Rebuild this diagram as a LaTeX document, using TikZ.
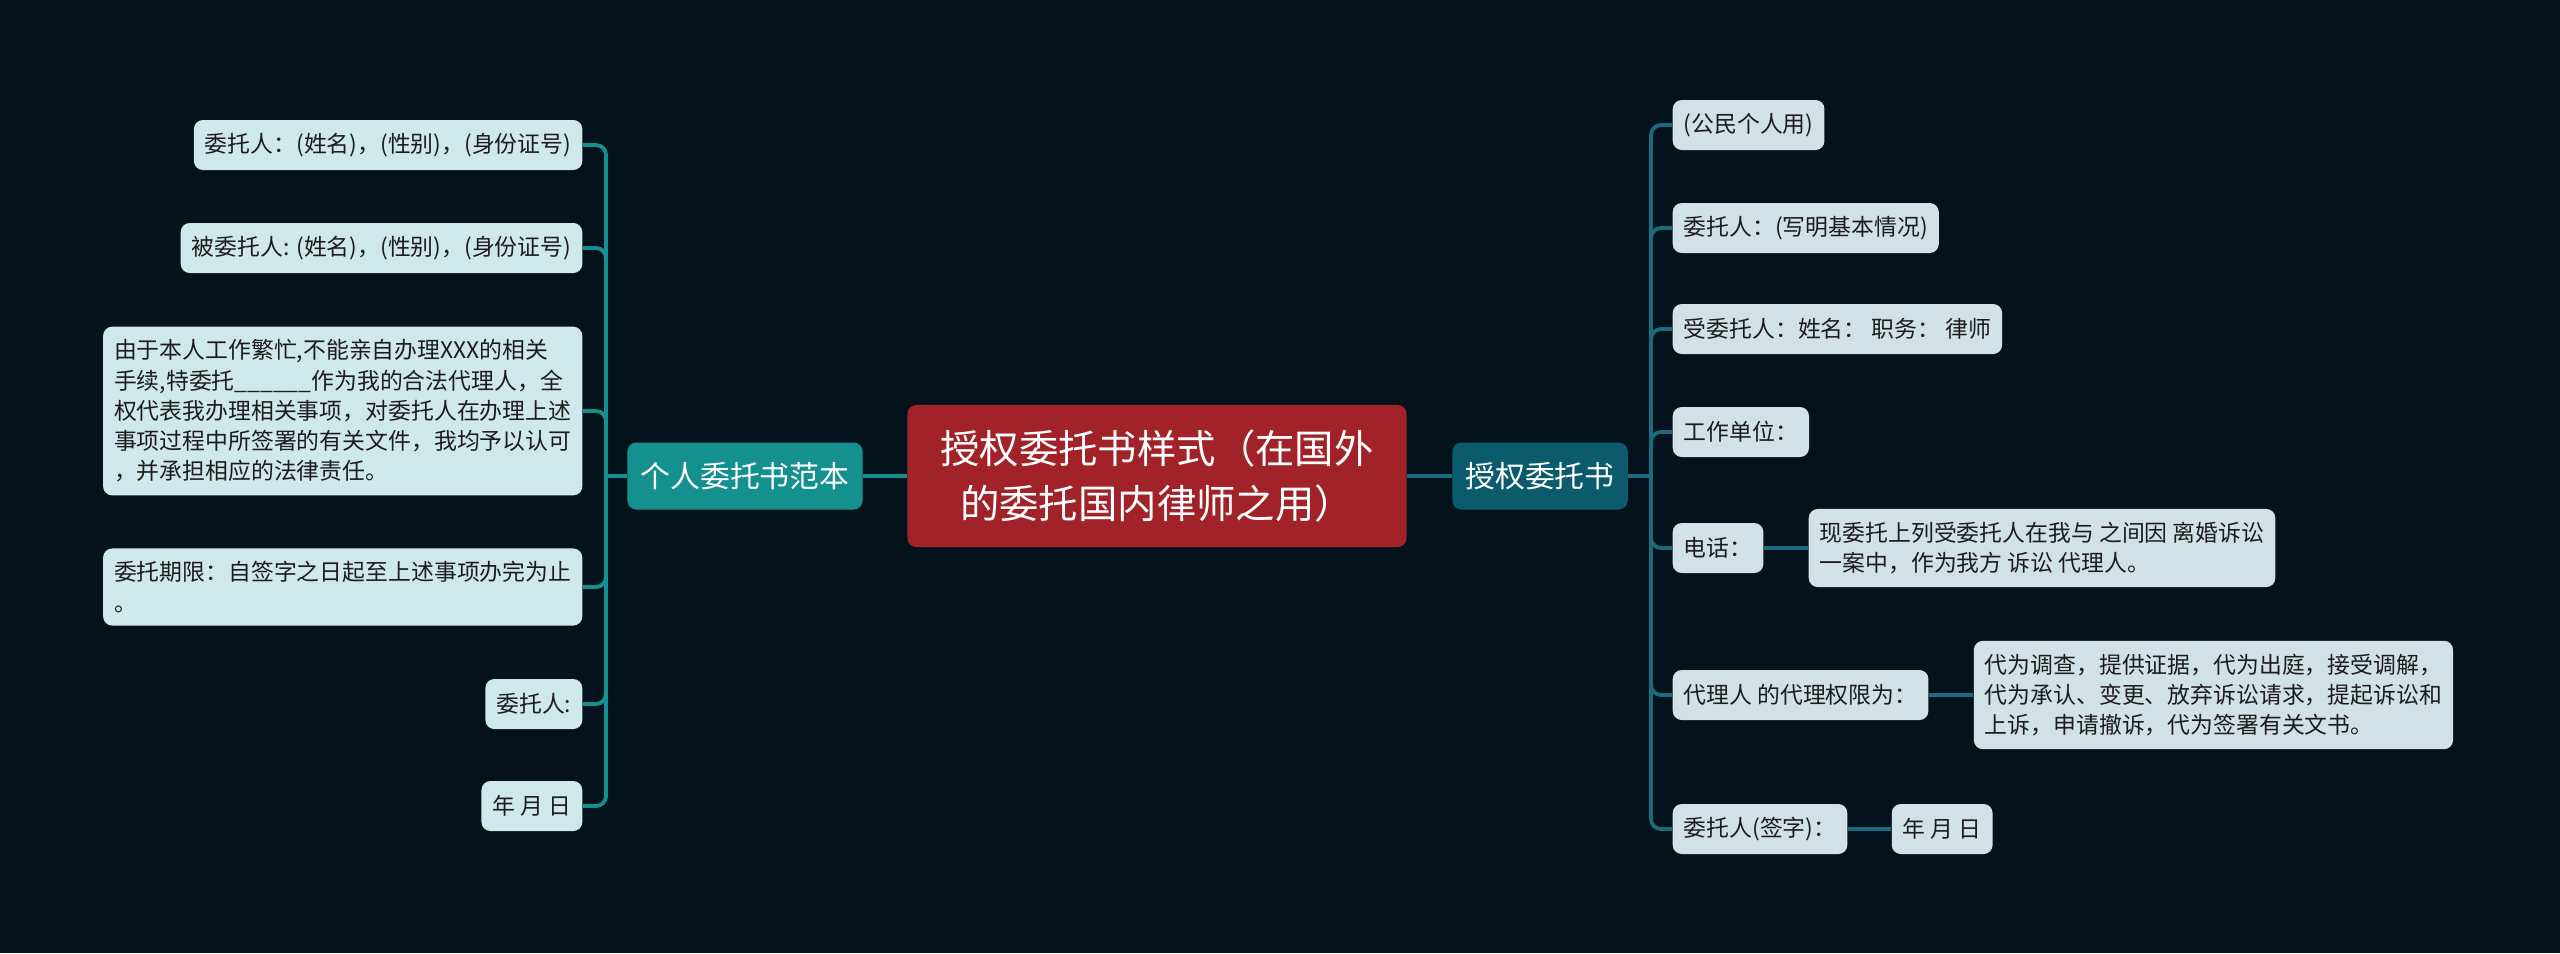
\documentclass[tikz,border=0pt]{standalone}
\usepackage{fontspec}
\setmainfont{Noto Sans CJK SC}
\usepackage{tikz}
\usetikzlibrary{positioning}
\usepackage{xcolor}
\definecolor{bgdark}{HTML}{03121B}
\definecolor{rootred}{HTML}{A12329}
\definecolor{tealL}{HTML}{14918F}
\definecolor{blueR}{HTML}{1B6B7E}
\definecolor{blueRfill}{HTML}{0B5B6C}
\definecolor{leafL}{HTML}{CFE9EA}
\definecolor{leafR}{HTML}{D1E2E6}
\definecolor{ink}{HTML}{1C1C1C}

\begin{document}
\begin{tikzpicture}[x=0.01cm, y=-0.01cm,
    leaf/.style={rounded corners=0.09cm, text=ink, inner xsep=0.11cm, inner ysep=0.13cm,
      minimum height=0.5cm, align=left, font=\fontsize{6.5}{8.6}\selectfont},
    lleaf/.style={leaf, fill=leafL, anchor=east},
    rleaf/.style={leaf, fill=leafR, anchor=west},
    topic/.style={rounded corners=0.09cm, text=white, inner xsep=0.13cm, minimum height=0.67cm,
      font=\fontsize{8.5}{10}\selectfont},
    lline/.style={draw=tealL, line width=1.1pt},
    rline/.style={draw=blueR, line width=1.1pt}]
  \useasboundingbox (0,0) rectangle (2560,953);
  \fill[bgdark] (0,0) rectangle (2560,953);

  % centre
  \node[fill=rootred, rounded corners=0.09cm, text=white, align=center, minimum width=4.99cm,
    minimum height=1.42cm, font=\fontsize{11.2}{15.8}\selectfont] (root) at (1157,476)
    {授权委托书样式（在国外\\的委托国内律师之用）};
  \node[topic, fill=tealL] (sample) at (745,476) {个人委托书范本};
  \node[topic, fill=blueRfill] (letter) at (1540,476) {授权委托书};
  \draw[lline] (root.west) -- (sample.east);
  \draw[rline] (root.east) -- (letter.west);

  % left side
  \node[lleaf] (a1) at (583,145) {委托人：(姓名)，(性别)，(身份证号)};
  \node[lleaf] (a2) at (583,248) {被委托人: (姓名)，(性别)，(身份证号)};
  \node[lleaf] (a3) at (583,411) {由于本人工作繁忙,不能亲自办理XXX的相关\\
    手续,特委托\_\_\_\_\_\_作为我的合法代理人，全\\
    权代表我办理相关事项，对委托人在办理上述\\
    事项过程中所签署的有关文件，我均予以认可\\
    ，并承担相应的法律责任。};
  \node[lleaf] (a4) at (583,587) {委托期限：自签字之日起至上述事项办完为止\\。};
  \node[lleaf] (a5) at (583,704) {委托人:};
  \node[lleaf] (a6) at (583,806) {年 月 日};
  \coordinate (ljunc) at (606,476);
  \draw[lline] (sample.west) -- (ljunc);
  \foreach \n in {a1,a2,a3,a4,a5,a6}
    \draw[lline, rounded corners=0.1cm] (ljunc) |- (\n.east);

  % right side
  \node[rleaf] (b1) at (1672,125) {(公民个人用)};
  \node[rleaf] (b2) at (1672,228) {委托人：(写明基本情况)};
  \node[rleaf] (b3) at (1672,329) {受委托人：姓名： 职务： 律师};
  \node[rleaf] (b4) at (1672,432) {工作单位：};
  \node[rleaf] (b5) at (1672,548) {电话：};
  \node[rleaf] (b6) at (1672,695) {代理人 的代理权限为：};
  \node[rleaf] (b7) at (1672,829) {委托人(签字)：};
  \node[rleaf, right=0.44cm of b5.east] (b5x) {现委托上列受委托人在我与 之间因 离婚诉讼\\一案中，作为我方 诉讼 代理人。};
  \node[rleaf, right=0.44cm of b6.east] (b6x) {代为调查，提供证据，代为出庭，接受调解，\\
    代为承认、变更、放弃诉讼请求，提起诉讼和\\上诉，申请撤诉，代为签署有关文书。};
  \node[rleaf, right=0.43cm of b7.east] (b7x) {年 月 日};
  \coordinate (rjunc) at (1651,476);
  \draw[rline] (letter.east) -- (rjunc);
  \foreach \n in {b1,b2,b3,b4,b5,b6,b7}
    \draw[rline, rounded corners=0.1cm] (rjunc) |- (\n.west);
  \draw[rline] (b5.east) -- (b5x.west);
  \draw[rline] (b6.east) -- (b6x.west);
  \draw[rline] (b7.east) -- (b7x.west);
\end{tikzpicture}
\end{document}
